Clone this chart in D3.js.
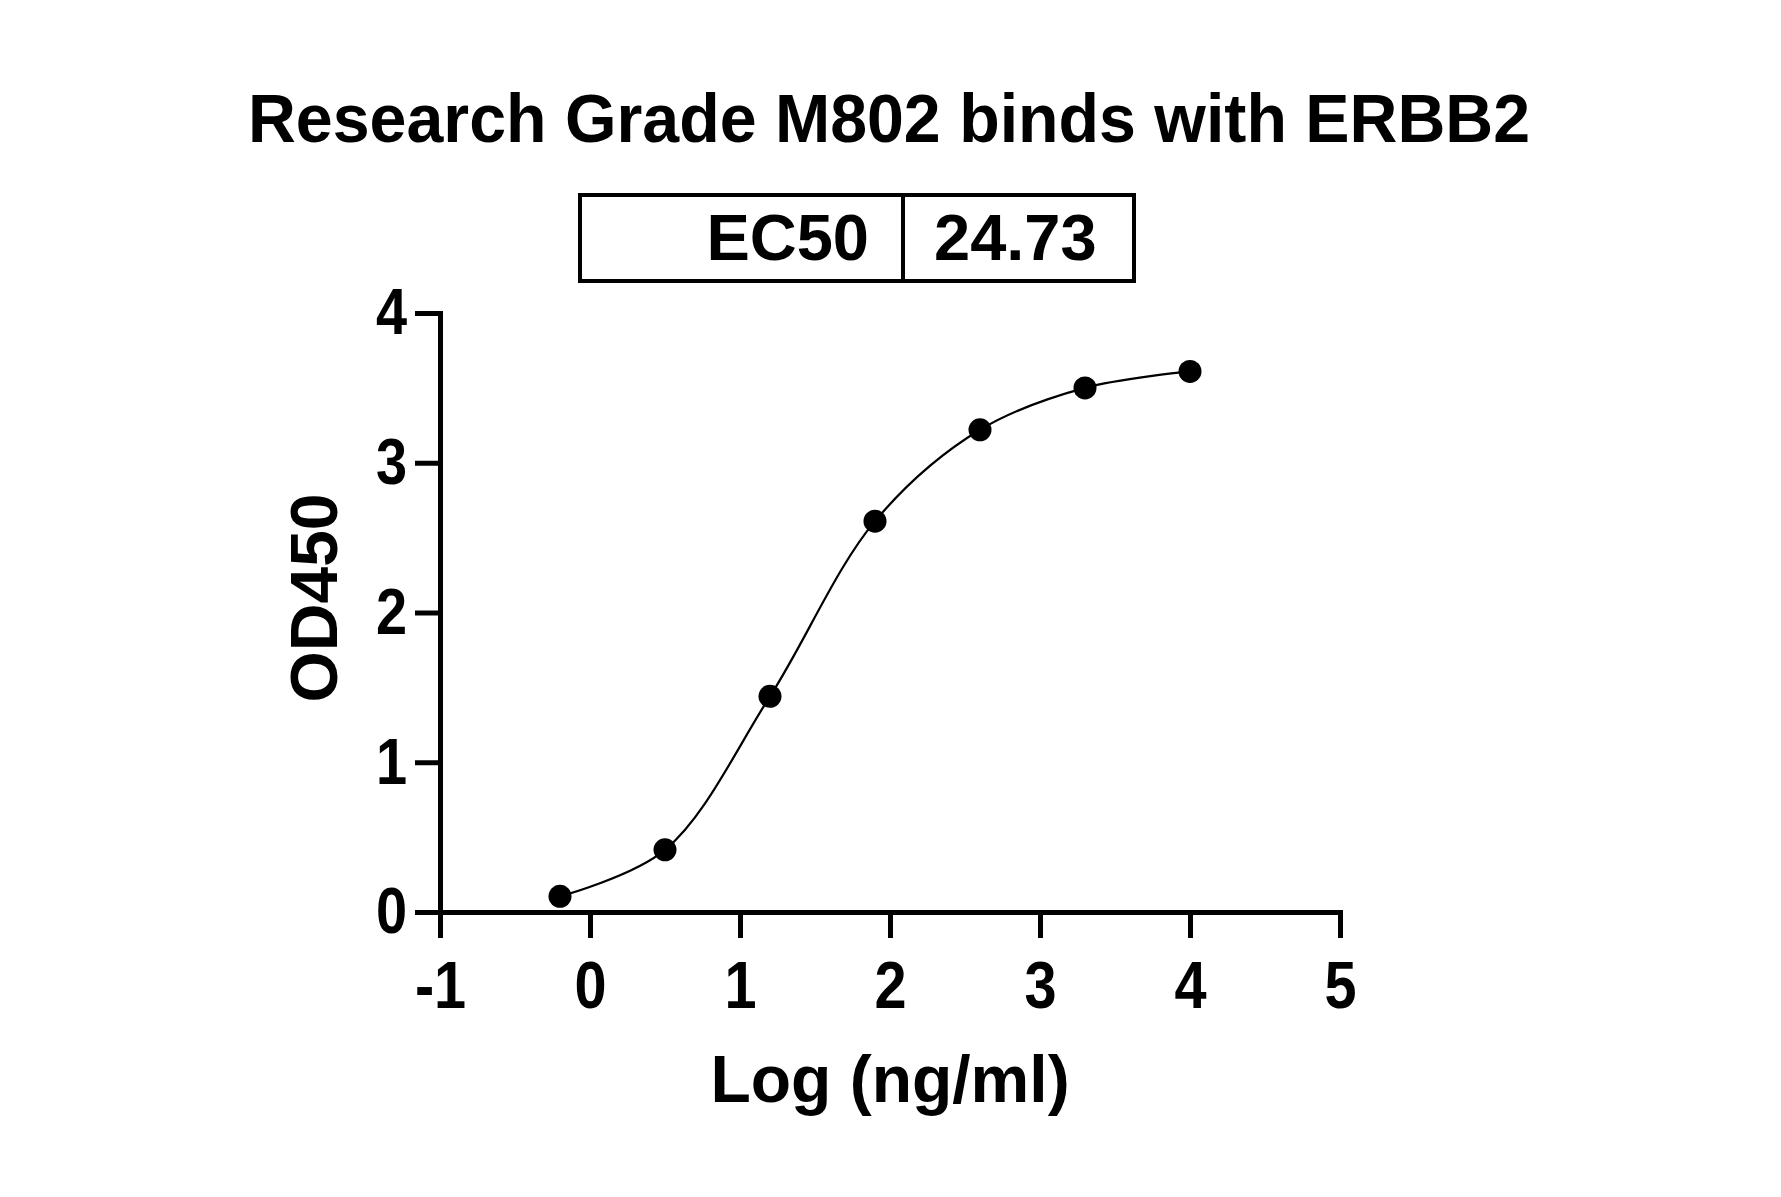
<!DOCTYPE html>
<html>
<head>
<meta charset="utf-8">
<script src="https://cdn.jsdelivr.net/npm/d3@7"></script>
<style>
  body { margin: 0; background: #fff; }
  text { font-family: "Liberation Sans", Arial, sans-serif; font-weight: bold; fill: #000; }
  .axis path, .axis line { stroke: #000; stroke-width: 5; }
  .curve { fill: none; stroke: #000; stroke-width: 2.2; }
</style>
</head>
<body>
<svg id="chart"></svg>
<script>
// data
var logConc = [-0.2, 0.5, 1.2, 1.9, 2.6, 3.3, 4.0];
var od450 = [0.105, 0.415, 1.44, 2.61, 3.22, 3.50, 3.61];
var xTicks = [-1, 0, 1, 2, 3, 4, 5];
var yTicks = [0, 1, 2, 3, 4];
var titleText = "Research Grade M802 binds with ERBB2";
var ec50Label = "EC50";
var ec50Value = "24.73";

var W = 1781, H = 1197;
var margin = {top: 313, left: 440},
    width = 900,
    height = 599;

var svg = d3.select("#chart").attr("width", W).attr("height", H);

svg.append("rect").attr("width", W).attr("height", H).attr("fill", "#fff");

// Scales and axes
var x = d3.scaleLinear().domain([-1, 5]).range([0, width]),
    y = d3.scaleLinear().domain([0, 4]).range([height, 0]);

var g = svg.append("g")
    .attr("transform", "translate(" + margin.left + "," + margin.top + ")");

g.append("g")
    .attr("class", "axis")
    .attr("transform", "translate(0," + height + ")")
    .call(d3.axisBottom(x).tickValues(xTicks).tickSize(26).tickSizeOuter(0)
      .tickPadding(22).tickFormat(function(d) { return String(d); }))
    .selectAll("text")
      .style("font-size", "67px");

g.append("g")
    .attr("class", "axis")
    .call(d3.axisLeft(y).tickValues(yTicks).tickSize(25).tickSizeOuter(0)
      .tickPadding(8).tickFormat(function(d) { return String(d); }))
    .selectAll("text")
      .style("font-size", "65px");

g.selectAll(".axis text")
    .attr("fill", "#000")
    .style("font-family", "Liberation Sans, Arial, sans-serif")
    .each(function() {
      // the tick digits in the picture are narrower than Arial
      var w = this.getComputedTextLength();
      d3.select(this).attr("textLength", w * 0.86).attr("lengthAdjust", "spacingAndGlyphs");
    });
g.selectAll(".axis .domain").attr("stroke-linecap", "square");

// fitted curve, drawn through the points
var pts = logConc.map(function(d, i) { return [d, od450[i]]; });

var line = d3.line()
    .curve(d3.curveCatmullRom.alpha(0.5))
    .x(function(d) { return x(d[0]); })
    .y(function(d) { return y(d[1]); });

g.append("path")
    .attr("class", "curve")
    .attr("d", line(pts));

g.selectAll(".dot")
    .data(pts)
  .enter().append("circle")
    .attr("class", "dot")
    .attr("cx", function(d) { return x(d[0]); })
    .attr("cy", function(d) { return y(d[1]); })
    .attr("r", 11.5)
    .attr("fill", "#000");

// title
svg.append("text")
    .attr("x", 889)
    .attr("y", 142)
    .attr("text-anchor", "middle")
    .attr("textLength", 1282)
    .attr("lengthAdjust", "spacingAndGlyphs")
    .style("font-size", "68px")
    .text(titleText);

// EC50 box
var box = svg.append("g");
box.append("rect")
    .attr("x", 580).attr("y", 195)
    .attr("width", 554).attr("height", 86)
    .attr("fill", "none").attr("stroke", "#000").attr("stroke-width", 4);
box.append("line")
    .attr("x1", 903).attr("x2", 903)
    .attr("y1", 195).attr("y2", 281)
    .attr("stroke", "#000").attr("stroke-width", 4);
box.append("text")
    .attr("x", 869).attr("y", 260)
    .attr("text-anchor", "end")
    .style("font-size", "65px")
    .text(ec50Label);
box.append("text")
    .attr("x", 934).attr("y", 260)
    .style("font-size", "65px")
    .text(ec50Value);

// axis titles
svg.append("text")
    .attr("transform", "translate(337,598) rotate(-90)")
    .attr("text-anchor", "middle")
    .style("font-size", "66px")
    .text("OD450");

svg.append("text")
    .attr("x", 890)
    .attr("y", 1102)
    .attr("text-anchor", "middle")
    .style("font-size", "66px")
    .text("Log (ng/ml)");
</script>
</body>
</html>
